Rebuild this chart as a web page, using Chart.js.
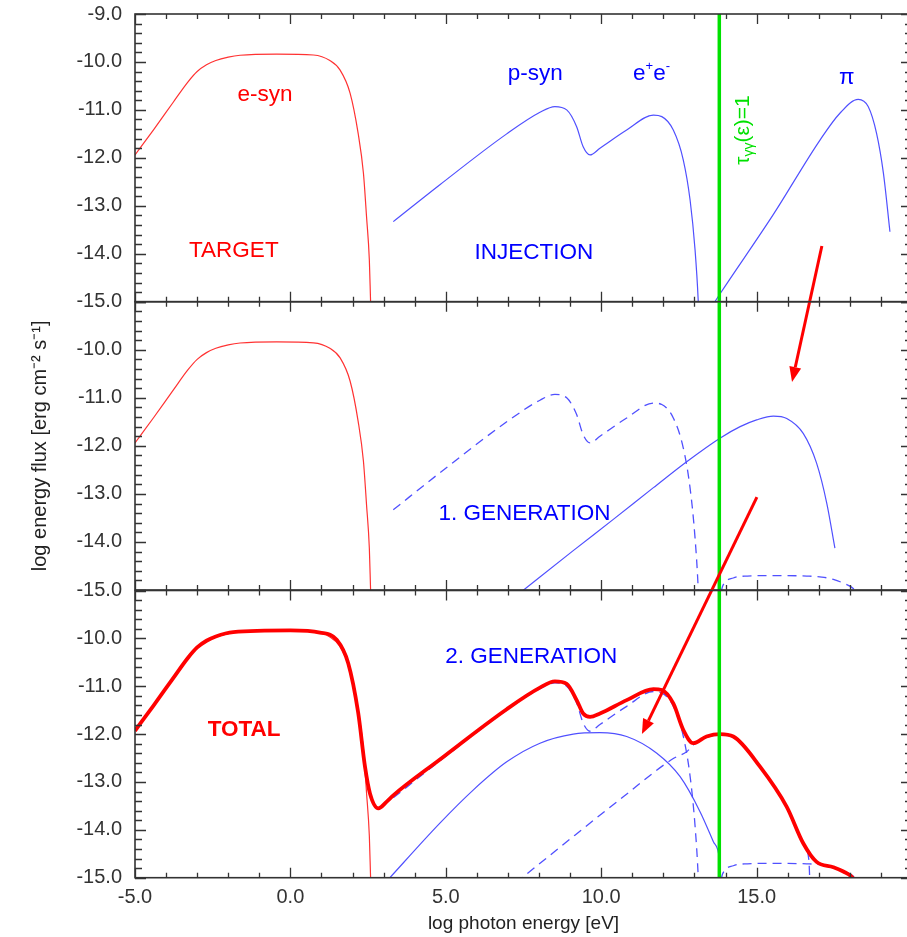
<!DOCTYPE html>
<html><head><meta charset="utf-8">
<script src="https://cdn.jsdelivr.net/npm/chart.js@4.4.1/dist/chart.umd.min.js"></script>
<style>
html,body{margin:0;padding:0;background:#fff;overflow:hidden;width:907px;height:937px;position:relative}
canvas{position:absolute;left:0;top:0}
</style></head><body>
<canvas id="c1" width="915" height="937"></canvas>
<canvas id="c2" width="915" height="937"></canvas>
<canvas id="c3" width="915" height="937"></canvas>
<script>
// ---------- data (log photon energy [eV], log energy flux) ----------
const xRange = [-5, 20];
const yRange = [-15, -9];
const xTickStep = 5;
const yTickStep = 1;

const eSyn = [[-5,-11.94],[-4.41,-11.42],[-3.77,-10.84],[-3.3,-10.42],[-3.0,-10.2],[-2.7,-10.06],[-2.4,-9.97],[-2.0,-9.9],[-1.62,-9.86],[-0.44,-9.835],[0.74,-9.855],[1.27,-9.97],[1.6,-10.17],[1.92,-10.65],[2.18,-11.49],[2.35,-12.32],[2.45,-13.23],[2.54,-14.13],[2.58,-15.0],[2.61,-15.6]];
const injection = [[3.31,-13.33],[4.81,-12.56],[6.96,-11.5],[8.03,-11.05],[8.51,-10.93],[8.89,-11.0],[9.21,-11.35],[9.42,-11.77],[9.64,-11.94],[9.96,-11.8],[10.82,-11.42],[11.68,-11.11],[11.95,-11.14],[12.32,-11.42],[12.64,-12.04],[12.86,-12.88],[13.02,-13.92],[13.12,-14.96],[13.15,-15.5]];
const pion = [[13.6,-15.06],[13.82,-14.84],[15.54,-13.18],[17.04,-11.63],[17.68,-11.07],[18.27,-10.78],[18.59,-10.93],[18.86,-11.49],[19.08,-12.32],[19.29,-13.54]];
const gen1 = [[7.25,-15.13],[9.1,-14.18],[10.39,-13.53],[11.68,-12.87],[12.75,-12.33],[13.82,-11.84],[14.47,-11.6],[15.0,-11.46],[15.54,-11.38],[15.97,-11.43],[16.5,-11.74],[16.93,-12.36],[17.26,-13.2],[17.52,-14.13]];
const pionAbs = [[13.86,-15.05],[13.9,-14.93],[14.25,-14.75],[14.7,-14.71],[15.5,-14.7],[16.61,-14.71],[17.1,-14.73],[17.47,-14.78],[17.8,-14.86],[18.11,-14.97],[18.2,-15.05]];
const gen1Abs = [[7.25,-15.11],[9.1,-14.14],[10.71,-13.31],[12.32,-12.51],[12.75,-12.37],[12.96,-12.23],[13.39,-12.07],[13.82,-12.02],[14.25,-12.07],[15.11,-12.7],[15.97,-13.54],[16.5,-14.3],[16.68,-14.62],[16.72,-15.2]];
const gen2 = [[3.06,-15.1],[4.81,-13.86],[5.88,-13.17],[6.96,-12.58],[8.03,-12.19],[9.1,-12.0],[9.96,-11.97],[10.82,-12.05],[11.79,-12.4],[12.54,-12.89],[13.18,-13.62],[13.61,-14.25],[13.8,-14.6],[13.86,-15.2]];
const total = [[-5,-11.93],[-4.41,-11.41],[-3.77,-10.83],[-3.3,-10.41],[-3.0,-10.19],[-2.7,-10.05],[-2.4,-9.96],[-1.84,-9.87],[0,-9.835],[0.95,-9.88],[1.49,-10.03],[1.86,-10.52],[2.18,-11.55],[2.4,-12.68],[2.56,-13.24],[2.83,-13.55],[3.1,-13.41],[3.31,-13.28],[4.81,-12.53],[6.96,-11.48],[8.03,-11.03],[8.51,-10.9],[8.89,-10.95],[9.21,-11.29],[9.42,-11.57],[9.64,-11.64],[9.96,-11.57],[10.82,-11.29],[11.68,-11.06],[11.95,-11.08],[12.32,-11.36],[12.64,-11.91],[12.96,-12.19],[13.39,-12.05],[13.82,-12.0],[14.25,-12.05],[15.11,-12.68],[15.97,-13.52],[16.5,-14.28],[16.93,-14.67],[17.47,-14.78],[17.79,-14.87],[18.11,-15.01],[18.2,-15.1]];
const tauOne = [[13.8,-16],[13.8,-8]];

// annotation anchors (data coords of each panel)
const arrowGen1 = [[17.10,-7.84],[16.14,-10.67]];
const arrowGen2 = [[15.01,-7.05],[11.31,-12.0]];

// ---------- styling ----------
const FONT = '"Liberation Sans", Arial, sans-serif';
const RED = 'rgb(255,0,0)', REDT = 'rgb(255,50,50)', BLUE = 'rgb(0,0,255)', BLUEL = 'rgb(80,80,255)', GREEN = 'rgb(0,225,0)';
const toXY = a => a.map(p => ({x: p[0], y: p[1]}));
function ds(data, color, width, dash, smooth = true) {
  return {data: toXY(data), borderColor: color, borderWidth: width, borderDash: dash || [],
    pointRadius: 0, fill: false, tension: smooth ? 0.4 : 0,
    cubicInterpolationMode: smooth ? 'monotone' : 'default'};
}
function drawParts(ctx, parts, x, y, align, rot) {
  ctx.save(); ctx.translate(x, y); if (rot) ctx.rotate(rot);
  ctx.textBaseline = 'alphabetic';
  let w = 0; parts.forEach(p => { ctx.font = p.font; w += ctx.measureText(p.t).width; });
  let cx = align === 'center' ? -w / 2 : 0;
  parts.forEach(p => { ctx.font = p.font; ctx.fillStyle = p.color; ctx.fillText(p.t, cx, p.dy || 0); cx += ctx.measureText(p.t).width; });
  ctx.restore();
}
function drawArrow(ctx, x0, y0, x1, y1) {
  const ang = Math.atan2(y1 - y0, x1 - x0), L = 15, W = 6;
  const bx = x1 - L * Math.cos(ang), by = y1 - L * Math.sin(ang);
  ctx.save(); ctx.strokeStyle = RED; ctx.fillStyle = RED; ctx.lineWidth = 3;
  ctx.beginPath(); ctx.moveTo(x0, y0); ctx.lineTo(bx, by); ctx.stroke();
  ctx.beginPath(); ctx.moveTo(x1, y1);
  ctx.lineTo(bx + W * Math.sin(ang), by - W * Math.cos(ang));
  ctx.lineTo(bx - W * Math.sin(ang), by + W * Math.cos(ang));
  ctx.closePath(); ctx.fill(); ctx.restore();
}
const F = (s, b) => (b ? 'bold ' : '') + s + 'px ' + FONT;

const annot = {
  id: 'annot',
  afterDatasetsDraw(chart) {
    const o = chart.config.options.plugins.annot;
    const {ctx} = chart, sx = chart.scales.x, sy = chart.scales.y;
    (o.labels || []).forEach(l => drawParts(ctx, l.parts, sx.getPixelForValue(l.x), sy.getPixelForValue(l.y), l.align || 'center', l.rot || 0));
    (o.arrows || []).forEach(a => drawArrow(ctx, sx.getPixelForValue(a[0][0]), sy.getPixelForValue(a[0][1]), sx.getPixelForValue(a[1][0]), sy.getPixelForValue(a[1][1])));
  },
  afterDraw(chart) {
    const {ctx, chartArea: a} = chart, sx = chart.scales.x, sy = chart.scales.y;
    ctx.save(); ctx.strokeStyle = '#333'; ctx.lineWidth = 1.6;
    ctx.strokeRect(a.left, a.top, a.right - a.left, a.bottom - a.top);
    ctx.lineWidth = 1.3; ctx.beginPath();
    for (let i = 0; i <= 30; i++) {
      const v = yRange[0] + i * 0.2, p = Math.round(sy.getPixelForValue(v)) + 0.5, L = i % 5 === 0 ? 11 : 7;
      ctx.moveTo(a.left, p); ctx.lineTo(a.left + L, p); ctx.moveTo(a.right, p); ctx.lineTo(a.right - L, p);
    }
    for (let v = xRange[0]; v <= xRange[1]; v++) {
      const p = Math.round(sx.getPixelForValue(v)) + 0.5, L = v % 5 === 0 ? 10 : 5;
      ctx.moveTo(p, a.top); ctx.lineTo(p, a.top + L); ctx.moveTo(p, a.bottom); ctx.lineTo(p, a.bottom - L);
    }
    ctx.stroke(); ctx.restore();
  }
};

function make(id, pad, datasets, o, showX, showYTitle, showTop) {
  return new Chart(document.getElementById(id), {
    type: 'line',
    data: {datasets},
    plugins: [annot],
    options: {
      responsive: false, animation: false, events: [],
      layout: {padding: pad},
      plugins: {legend: {display: false}, tooltip: {enabled: false}, annot: o},
      scales: {
        x: {type: 'linear', min: xRange[0], max: xRange[1], display: showX,
          afterFit: s => { s.height = showX ? 59.3 : 0; s.paddingLeft = 0; s.paddingRight = 0; s.paddingTop = 0; s.paddingBottom = 0; },
          grid: {display: false, drawTicks: false}, border: {display: false},
          ticks: {stepSize: xTickStep, padding: 8, maxRotation: 0, autoSkip: false, color: '#333', font: {family: FONT, size: 20},
            callback: v => v > 15.5 ? null : v.toFixed(1)},
          title: {display: true, text: 'log photon energy [eV]', color: '#222', font: {family: FONT, size: 19}, padding: {top: 0, bottom: 2}}},
        y: {type: 'linear', min: yRange[0], max: yRange[1],
          afterFit: s => { s.width = 135; s.paddingTop = 0; s.paddingBottom = 0; s.paddingLeft = 0; s.paddingRight = 0; },
          grid: {display: false, drawTicks: false}, border: {display: false},
          ticks: {stepSize: yTickStep, padding: 13, color: '#333', font: {family: FONT, size: 20},
            callback: v => (!showTop && v > -9.5) ? null : v.toFixed(1)},
          title: {display: showYTitle, text: 'log energy flux [erg cm\u207B\u00B2 s\u207B\u00B9]', color: '#222', font: {family: FONT, size: 20}, padding: {top: 28, bottom: 0}}}
      }
    }
  });
}

const S = 22.5;
make('c1', {top: 14, bottom: 635.3, left: 0, right: 3}, [
  ds(tauOne, GREEN, 3.5, null, false),
  ds(pion, BLUEL, 1.2),
  ds(injection, BLUEL, 1.2),
  ds(eSyn, REDT, 1.2)
], {labels: [
  {x: -0.82, y: -10.81, parts: [{t: 'e-syn', font: F(S), color: RED}]},
  {x: -1.82, y: -14.07, parts: [{t: 'TARGET', font: F(S), color: RED}]},
  {x: 7.88, y: -10.38, parts: [{t: 'p-syn', font: F(S), color: BLUE}]},
  {x: 11.62, y: -10.38, parts: [{t: 'e', font: F(S), color: BLUE}, {t: '+', font: F(13), color: BLUE, dy: -10}, {t: 'e', font: F(S), color: BLUE}, {t: '-', font: F(13), color: BLUE, dy: -10}]},
  {x: 17.9, y: -10.45, parts: [{t: '\u03C0', font: F(S), color: BLUE}]},
  {x: 7.83, y: -14.10, parts: [{t: 'INJECTION', font: F(S), color: BLUE}]},
  {x: 14.75, y: -11.42, rot: -Math.PI / 2, parts: [{t: '\u03C4', font: F(21), color: GREEN}, {t: '\u03B3\u03B3', font: F(14), color: GREEN, dy: 4}, {t: '(\u03B5)=1', font: F(21), color: GREEN}]}
]}, false, false, true);

make('c2', {top: 301.7, bottom: 347, left: 0, right: 3}, [
  ds(tauOne, GREEN, 3.5, null, false),
  ds(gen1, BLUEL, 1.2),
  ds(pionAbs, BLUEL, 1.3, [9, 6]),
  ds(injection, BLUEL, 1.3, [9, 6]),
  ds(eSyn, REDT, 1.2)
], {labels: [
  {x: 7.53, y: -13.54, parts: [{t: '1. GENERATION', font: F(S), color: BLUE}]}
], arrows: [arrowGen1]}, false, true, false);

make('c3', {top: 590.5, bottom: 0, left: 0, right: 3}, [
  ds(tauOne, GREEN, 3.5, null, false),
  ds(total, RED, 3.8),
  ds(eSyn, REDT, 1.2),
  ds(gen2, BLUEL, 1.2),
  ds(gen1Abs, BLUEL, 1.3, [9, 6]),
  ds(pionAbs, BLUEL, 1.3, [9, 6]),
  ds(injection, BLUEL, 1.3, [9, 6])
], {labels: [
  {x: 7.75, y: -10.51, parts: [{t: '2. GENERATION', font: F(S), color: BLUE}]},
  {x: -1.49, y: -12.05, parts: [{t: 'TOTAL', font: F(S, true), color: RED}]}
], arrows: [arrowGen2]}, true, false, false);
</script>
</body></html>
